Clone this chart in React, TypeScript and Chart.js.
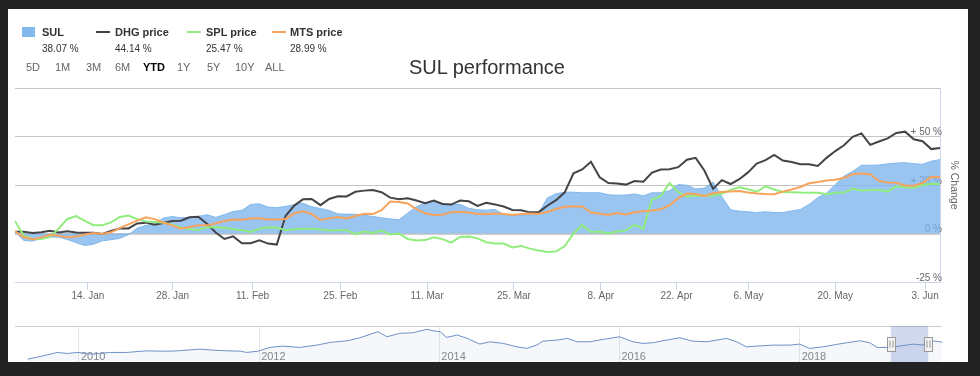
import React, { useEffect, useRef } from 'react';
import { Chart, registerables } from 'chart.js';

Chart.register(...registerables);

// ---- main chart data (percent change since start, one value per trading day) ----
const sulValues = [
  1, -3.6, -3.9, -2.6, -1.8, -1.9, -3.1, -4.7, -6.2, -5.5,
  -3.8, -3.2, -2.5, -0.6, 2.7, 4.2, 4.8, 8, 8.7, 8.1,
  8.4, 8.8, 9.7, 8.3, 9.8, 11.3, 11.9, 15, 15.3, 13.6,
  13.3, 14, 14.8, 15.6, 13.8, 12.9, 11.9, 10.1, 10, 9.9,
  9.4, 8.8, 8.1, 7.5, 7.1, 10.5, 13.8, 15.8, 16.5, 15.5,
  14.7, 15, 13, 12.2, 12, 12.4, 9.9, 9.5, 9.6, 9.6,
  10.3, 18.3, 20.5, 21.3, 21.3, 21, 21, 21, 20, 19.7,
  19.8, 20.4, 19.4, 21, 21, 22, 25.2, 24.9, 23, 23.4,
  26.5, 19, 12.2, 11.5, 11.2, 10.8, 11.2, 10.8, 10.8, 11.6,
  12.4, 15, 18.5, 20.8, 25.3, 29.6, 32, 35.2, 35.2, 35.3,
  35.9, 36.3, 36.5, 36, 35.7, 37.3, 38.1,
];
const dhgValues = [
  0.9, 0.9, 0.3, 0.7, 1.4, 0.5, 1.2, 0.5, 0.4, 0.4,
  -0.2, 1.3, 2.6, 2.6, 5.2, 5.6, 4.5, 5.4, 6.4, 6.6,
  8.4, 8.6, 5, 0.5, -2.8, -1.5, -5, -5, -3.5, -5.2,
  -5.7, 9, 14.4, 17.6, 17.8, 14.6, 17.8, 19.2, 19.1, 21.5,
  22.1, 22.4, 21.3, 18.5, 17.7, 18.2, 17, 15.6, 17, 15.2,
  14.9, 17, 16.6, 14.2, 15.8, 15, 13.9, 12.1, 12, 10.9,
  11, 14.3, 17.2, 21.2, 31, 33, 37, 29, 26, 25.8,
  25.2, 27, 26.7, 31.4, 33, 33.1, 34.2, 38, 39, 32.5,
  23, 27.5, 25.5, 28, 31.5, 36, 37.8, 40.5, 37.6, 36.9,
  35.7, 35.7, 34.8, 39, 42.5, 45.5, 49.8, 51.6, 45.7, 47.4,
  49, 51.8, 52.5, 48.6, 47.6, 43.5, 44.1,
];
const splValues = [
  6.5, -1.2, -2.7, -2.8, -1.9, 2.5, 7.5, 9, 6.5, 4.3,
  4.3, 5.7, 8.5, 9.3, 7.4, 6.2, 5.9, 5.6, 4.5, 3,
  2.3, 1.8, 3.2, 3.3, 2.8, 2.3, 1.7, 0.8, 2.5, 3.2,
  3.1, 1.7, 2.2, 2.4, 2.4, 2.1, 1.5, 1.7, 1.7, -0.3,
  1, 0.3, 1.5, -0.5, 0, -2.8, -3.6, -3.4, -2, -2.9,
  -4.7, -1.8, -1.5, -2.5, -4.5, -5.2, -5.2, -7.2, -6.4, -7.8,
  -8.8, -9.5, -9.3, -6.5, 0, 4.3, 0.8, 1, 0, 1,
  1.6, 4.5, 2.5, 17.5, 19.2, 26, 21.3, 19, 19.6, 19.5,
  19.5, 20.5, 22.5, 23.8, 22.8, 21.5, 24.3, 22.7, 21.4, 21.3,
  21.1, 21, 21, 20.3, 21, 21.1, 23, 22.2, 22.4, 22.4,
  21.7, 24.3, 23.8, 23.6, 25, 25.6, 25.5,
];
const mtsValues = [
  1.1, -1.8, -3.1, -2, -0.7, -1.2, -1.9, -1.5, -0.5, 0.2,
  -0.3, 0.6, 2.8, 4.7, 6.6, 8.4, 7.4, 5.7, 4.2, 2.5,
  3.4, 4.3, 4.2, 5.2, 6.5, 7.2, 7.1, 7.7, 7.8, 7.2,
  7.2, 7.5, 10.4, 11.5, 10.1, 7, 7.8, 8.5, 7.7, 9,
  10.2, 10, 12, 16.5, 16.2, 15.5, 12.6, 10.4, 9.6, 9.7,
  11, 11.2, 10.8, 10.1, 10, 10.3, 10.1, 9.5, 10.1, 10.3,
  10.2, 11.1, 12.6, 13.8, 14.1, 13.9, 10.8, 10.2, 9.6, 10.5,
  9.8, 10.9, 11.5, 11.9, 12.5, 14.5, 18.2, 20.6, 20.3, 19.4,
  20.7, 21.4, 21.7, 21.9, 21.1, 20.6, 20.3, 20.2, 21.6, 22.7,
  24, 25.9, 26.5, 27.3, 27.7, 28.7, 30.5, 30.9, 30.6, 27.1,
  26.3, 26.2, 24.8, 24.6, 26, 29.2, 29,
];

// x axis: trading-day index of each labelled date
const xTickPos = [8.35, 18.07, 27.22, 37.28, 47.23, 57.18, 67.12, 75.81, 84.05, 94.0, 104.29];
const xTickLabels = ['14. Jan', '28. Jan', '11. Feb', '25. Feb', '11. Mar', '25. Mar', '8. Apr', '22. Apr', '6. May', '20. May', '3. Jun'];
const yTickVals = [-25, 0, 25, 50, 75];
const yTickLabels = ['-25 %', '0 %', '+ 25 %', '+ 50 %', ''];

// legend / range selector
const seriesNames = ['SUL', 'DHG price', 'SPL price', 'MTS price'];
const seriesColors = ['#7cb5ec', '#434348', '#90ed7d', '#f7a35c'];
const seriesLastChange = ['38.07 %', '44.14 %', '25.47 %', '28.99 %'];
const rangeButtons = ['5D', '1M', '3M', '6M', 'YTD', '1Y', '5Y', '10Y', 'ALL'];
const activeRange = 'YTD';
const chartTitle = 'SUL performance';

// navigator (long history, x in years)
const navYears = [
  2009.43, 2009.6, 2009.76, 2009.87, 2009.99, 2010.16, 2010.34, 2010.53, 2010.75, 2010.9,
  2011.04, 2011.2, 2011.34, 2011.49, 2011.64, 2011.79, 2011.86, 2011.99, 2012.12, 2012.26,
  2012.45, 2012.64, 2012.79, 2012.98, 2013.12, 2013.23, 2013.32, 2013.42, 2013.56, 2013.71,
  2013.86, 2013.93, 2014.01, 2014.08, 2014.2, 2014.31, 2014.45, 2014.56, 2014.71, 2014.86,
  2014.97, 2015.08, 2015.15, 2015.31, 2015.42, 2015.53, 2015.67, 2015.82, 2016.0, 2016.15,
  2016.26, 2016.37, 2016.48, 2016.67, 2016.81, 2016.97, 2017.19, 2017.3, 2017.41, 2017.52,
  2017.7, 2017.89, 2018.0, 2018.11, 2018.26, 2018.41, 2018.52, 2018.67, 2018.78, 2018.86,
  2019.0, 2019.11, 2019.26, 2019.37, 2019.41, 2019.58,
];
const navValues = [
  4, 7.3, 10.7, 9.7, 10.7, 9, 10.7, 10.7, 12.3, 12,
  12, 13, 14, 13, 12.3, 12, 10.7, 12, 15.7, 17,
  15.7, 18, 20.7, 22.3, 25.3, 28.7, 31.3, 26.3, 29.7, 30.3,
  33.7, 32.3, 31.3, 25.7, 28, 24.7, 19, 21.3, 19.7, 16.3,
  14.7, 18, 22, 23, 24.7, 21.3, 21.3, 23.7, 26.3, 21.3,
  19.7, 20.3, 22.3, 25.3, 22, 21.3, 24.7, 21.3, 16.3, 17,
  18, 18, 19, 14.7, 16.3, 18.7, 20.3, 22.3, 20.3, 15.7,
  15.7, 17, 19, 18, 23, 21,
];
const navLabelYears = [2010, 2012, 2014, 2016, 2018];
const navRange = [2019.01, 2019.43];

const FONT = '"Liberation Sans", Arial, sans-serif';

const toPts = (arr: number[]) => arr.map((y, i) => ({ x: i, y }));

function mainConfig(): any {
  const lineDs = (i: number, values: number[], order: number) => ({
    label: seriesNames[i],
    data: toPts(values),
    borderColor: seriesColors[i],
    borderWidth: 2,
    pointRadius: 0,
    tension: 0,
    fill: false,
    order,
  });
  return {
    type: 'line',
    data: {
      datasets: [
        {
          label: seriesNames[0],
          data: toPts(sulValues),
          fill: 'origin',
          backgroundColor: 'rgba(124,181,236,0.78)',
          borderColor: 'rgba(124,181,236,0.95)',
          borderWidth: 1,
          pointRadius: 0,
          tension: 0,
          order: 4,
        },
        lineDs(1, dhgValues, 3),
        lineDs(2, splValues, 2),
        lineDs(3, mtsValues, 1),
      ],
    },
    options: {
      animation: false,
      responsive: false,
      maintainAspectRatio: false,
      layout: { padding: { left: 15, top: 88, right: 15.4, bottom: 3 } },
      plugins: { legend: { display: false }, tooltip: { enabled: false }, title: { display: false } },
      scales: {
        x: {
          type: 'linear',
          min: 0,
          max: sulValues.length - 1,
          afterBuildTicks: (s: any) => {
            s.ticks = xTickPos.map((v) => ({ value: v }));
          },
          ticks: {
            autoSkip: false,
            maxRotation: 0,
            padding: 0,
            color: '#666',
            font: { family: FONT, size: 10 },
            callback: (_v: any, i: number) => xTickLabels[i],
          },
          grid: { drawOnChartArea: false, drawTicks: true, tickLength: 8, color: '#ccd6eb' },
          border: { display: true, color: '#ccd6eb' },
        },
        y: {
          position: 'right',
          min: -25,
          max: 75,
          afterBuildTicks: (s: any) => {
            s.ticks = yTickVals.map((v) => ({ value: v }));
          },
          ticks: {
            mirror: true,
            padding: 2,
            labelOffset: -4,
            color: '#666',
            font: { family: FONT, size: 10 },
            callback: (_v: any, i: number) => yTickLabels[i],
          },
          grid: {
            drawTicks: false,
            color: (c: any) => (c.tick && c.tick.value === 0 ? '#cccccc' : '#c4c4c4'),
            lineWidth: (c: any) => (c.tick && c.tick.value === 0 ? 2 : 1),
          },
          border: { display: true, color: '#ccd6eb' },
          title: {
            display: true,
            text: '% Change',
            color: '#666',
            font: { family: FONT, size: 10.5 },
            padding: { top: 4, bottom: 4 },
          },
        },
      },
    },
  };
}

const handlesPlugin = {
  id: 'navHandles',
  afterDatasetsDraw(chart: any) {
    const { ctx, chartArea } = chart;
    const xs = chart.scales.x;
    const yMid = (chartArea.top + chartArea.bottom) / 2 - 0.5;
    navRange.forEach((v) => {
      const px = Math.round(xs.getPixelForValue(v)) + 0.5;
      ctx.save();
      ctx.fillStyle = '#f2f2f2';
      ctx.strokeStyle = '#999999';
      ctx.lineWidth = 1;
      ctx.fillRect(px - 4, Math.round(yMid - 7) + 0.5, 8, 14);
      ctx.strokeRect(px - 4, Math.round(yMid - 7) + 0.5, 8, 14);
      ctx.beginPath();
      ctx.moveTo(px - 1.5, yMid - 3.5);
      ctx.lineTo(px - 1.5, yMid + 3.5);
      ctx.moveTo(px + 1.5, yMid - 3.5);
      ctx.lineTo(px + 1.5, yMid + 3.5);
      ctx.stroke();
      ctx.restore();
    });
  },
};

function navConfig(): any {
  const navMax = 37;
  return {
    type: 'line',
    data: {
      datasets: [
        {
          data: navRange.map((x) => ({ x, y: navMax })),
          fill: 'start',
          backgroundColor: 'rgba(102,133,194,0.3)',
          borderWidth: 0,
          pointRadius: 0,
          order: 1,
        },
        {
          data: navYears.map((x, i) => ({ x, y: navValues[i] })),
          fill: 'start',
          backgroundColor: 'rgba(51,92,173,0.05)',
          borderColor: '#6f90c6',
          borderWidth: 1,
          pointRadius: 0,
          tension: 0,
          order: 2,
        },
      ],
    },
    plugins: [handlesPlugin],
    options: {
      animation: false,
      responsive: false,
      maintainAspectRatio: false,
      layout: { padding: { left: 15, top: 8, right: 38, bottom: 12.8 } },
      plugins: { legend: { display: false }, tooltip: { enabled: false } },
      scales: {
        x: {
          type: 'linear',
          min: 2009.29,
          max: 2019.58,
          afterBuildTicks: (s: any) => {
            s.ticks = navLabelYears.map((v) => ({ value: v }));
          },
          ticks: {
            autoSkip: false,
            maxRotation: 0,
            align: 'start',
            labelOffset: 2,
            padding: -13,
            color: '#888',
            font: { family: FONT, size: 11 },
            callback: (_v: any, i: number) => String(navLabelYears[i]),
          },
          grid: { drawTicks: false, color: '#e6e6e6' },
          border: { display: false },
        },
        y: {
          min: 0,
          max: navMax,
          afterBuildTicks: (s: any) => {
            s.ticks = [{ value: navMax }];
          },
          ticks: { display: false },
          grid: { drawTicks: false, color: '#cccccc' },
          border: { display: false },
        },
      },
    },
  };
}

const abs = (left: number, top: number, extra: any = {}) => ({
  position: 'absolute' as const,
  left,
  top,
  whiteSpace: 'nowrap' as const,
  fontFamily: FONT,
  ...extra,
});

const legendSymbolX = [22, 96, 187, 272];
const legendTextX = [42, 115, 206, 290];
const buttonX = [26, 55, 86, 115, 143, 177, 207, 235, 265];

export default function App() {
  const mainRef = useRef<HTMLCanvasElement>(null);
  const navRef = useRef<HTMLCanvasElement>(null);

  useEffect(() => {
    const main = new Chart(mainRef.current as HTMLCanvasElement, mainConfig());
    const nav = new Chart(navRef.current as HTMLCanvasElement, navConfig());
    return () => {
      main.destroy();
      nav.destroy();
    };
  }, []);

  return (
    <div style={{ position: 'absolute', left: 0, top: 0, width: 980, height: 376, background: '#222', overflow: 'hidden' }}>
      <div style={{ position: 'absolute', left: 8, top: 9, width: 960, height: 353, background: '#fff', overflow: 'hidden' }}>
        <canvas
          ref={mainRef}
          width={980}
          height={305}
          style={{ position: 'absolute', left: -8, top: -9, width: 980, height: 305, display: 'block' }}
        />
        <canvas
          ref={navRef}
          width={980}
          height={58}
          style={{ position: 'absolute', left: -8, top: 309, width: 980, height: 58, display: 'block' }}
        />
      </div>

      {/* legend */}
      {seriesNames.map((name, i) => (
        <React.Fragment key={name}>
          {i === 0 ? (
            <div style={{ position: 'absolute', left: legendSymbolX[i], top: 27, width: 13, height: 10, background: '#83b8ec' }} />
          ) : (
            <div style={{ position: 'absolute', left: legendSymbolX[i], top: 31, width: 14, height: 2, background: seriesColors[i] }} />
          )}
          <div style={abs(legendTextX[i], 27.4, { fontSize: 11, lineHeight: '11px', fontWeight: 'bold', color: '#333' })}>{name}</div>
          <div style={abs(legendTextX[i], 43.8, { fontSize: 10, lineHeight: '10px', color: '#333' })}>{seriesLastChange[i]}</div>
        </React.Fragment>
      ))}

      {/* range selector */}
      {rangeButtons.map((b, i) => (
        <div
          key={b}
          style={abs(buttonX[i], 61.7, {
            fontSize: 11,
            lineHeight: '11px',
            color: b === activeRange ? '#000' : '#666',
            fontWeight: b === activeRange ? 'bold' : 'normal',
          })}
        >
          {b}
        </div>
      ))}

      {/* title */}
      <div style={abs(409, 56.9, { fontSize: 20, lineHeight: '20px', color: '#333' })}>{chartTitle}</div>
    </div>
  );
}
